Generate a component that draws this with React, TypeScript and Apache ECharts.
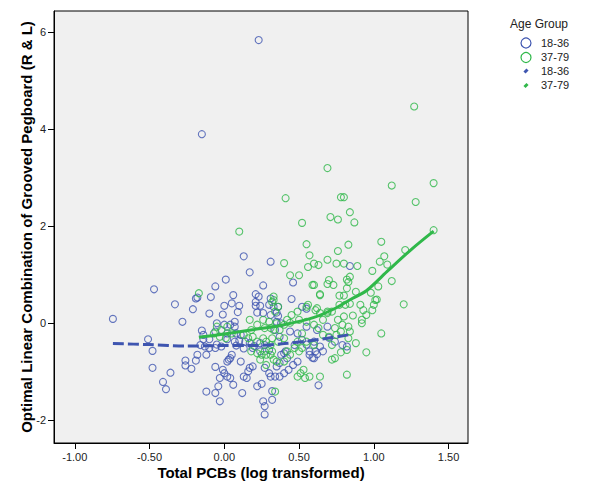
import React, { useEffect, useRef } from "react";
import * as echarts from "echarts";

// Age group 18-36: [Total PCBs (log), Grooved Pegboard combination]
const youngPoints: [number, number][] = [
  [0.23, 5.84], [-0.15, 3.9], [-0.745, 0.09], [-0.47, 0.7], [-0.33, 0.39], [-0.21, 0.29],
  [-0.19, 0.51], [-0.28, 0.03], [-0.51, -0.33], [-0.48, -0.57], [-0.48, -0.92], [-0.36, -1.02],
  [-0.41, -1.21], [-0.39, -1.36], [-0.26, -0.77], [-0.26, -0.87], [-0.22, -0.94], [-0.19, -0.77],
  [0.13, 1.38], [0.17, 1.05], [0.01, 0.9], [-0.06, 0.76], [0.26, 0.78], [-0.18, 0.53],
  [-0.09, 0.54], [0.06, 0.58], [0.21, 0.6], [0.23, 0.55], [0.31, 1.27], [0.46, 0.84],
  [0.45, 0.5], [0.52, 0.34], [0.84, 1.18], [0.21, 0.44], [0.0, 0.36], [0.05, 0.41],
  [0.1, 0.36], [-0.1, 0.2], [-0.01, 0.18], [0.09, 0.23], [0.21, 0.36], [0.24, 0.36],
  [0.22, 0.22], [0.26, 0.21], [0.31, 0.51], [0.3, 0.38], [0.33, 0.34], [0.36, 0.34],
  [0.35, 0.22], [0.31, 0.17], [0.36, 0.15], [-0.05, 0.0], [0.0, -0.03], [0.04, -0.03],
  [0.07, 0.03], [-0.06, -0.17], [-0.15, -0.15], [-0.14, -0.24], [-0.1, -0.33], [-0.14, -0.33],
  [0.07, -0.07], [0.08, -0.21], [0.11, -0.24], [0.1, -0.36], [0.07, -0.38], [0.02, -0.21],
  [0.02, -0.33], [-0.02, -0.48], [-0.06, -0.51], [-0.1, -0.51], [-0.13, -0.48], [-0.12, -0.65],
  [0.14, -0.38], [0.17, -0.41], [0.24, -0.41], [0.27, -0.45], [0.19, -0.51], [0.24, -0.58],
  [0.3, -0.55], [0.34, -0.14], [0.37, -0.28], [0.35, 0.03], [0.38, 0.0], [0.44, -0.17],
  [0.49, -0.21], [0.47, -0.45], [0.52, -0.34], [0.55, -0.07], [0.62, -0.14], [0.6, -0.38],
  [0.64, -0.48], [0.66, -0.58], [0.57, -0.65], [0.6, -0.72], [0.74, -0.38], [0.79, -0.45],
  [0.82, -0.48], [0.02, -0.79], [0.04, -0.72], [0.05, -0.65], [0.03, -0.75], [0.11, -0.79],
  [-0.06, -0.9], [-0.01, -0.96], [0.0, -1.03], [0.02, -1.1], [0.04, -1.13], [-0.03, -1.13],
  [-0.04, -1.3], [-0.06, -1.44], [-0.03, -1.61], [-0.12, -1.41], [0.06, -1.27], [0.12, -1.44],
  [0.13, -1.1], [0.16, -0.99], [0.15, -1.13], [0.17, -0.92], [0.19, -0.89], [0.22, -1.3],
  [0.25, -1.25], [0.27, -0.92], [0.3, -1.03], [0.31, -1.1], [0.34, -1.1], [0.37, -1.1],
  [0.26, -1.61], [0.27, -1.71], [0.27, -1.88], [0.32, -1.58], [0.63, -1.28], [0.49, -0.79],
  [0.46, -0.86], [0.43, -0.96], [0.4, -1.03], [0.38, -0.65], [0.41, -0.58], [0.42, -0.72],
  [0.57, -0.58], [0.61, -0.58], [0.59, -0.71], [0.62, -0.64], [0.4, -0.62], [0.37, -0.82],
  [0.35, -0.89], [0.32, -1.4], [-0.18, -0.65], [-0.16, -0.45], [-0.05, -0.44], [0.08, -0.46],
  [0.13, -0.52], [0.2, -0.47], [0.55, -0.44], [0.7, -0.3], [0.55, 0.3], [0.69, -0.07],
];

// Age group 37-79
const olderPoints: [number, number][] = [
  [1.27, 4.47], [0.69, 3.2], [1.12, 2.84], [1.4, 2.89], [1.28, 2.5], [0.41, 2.58],
  [0.78, 2.6], [0.8, 2.6], [0.84, 2.29], [0.71, 2.19], [0.76, 2.14], [0.87, 2.08],
  [0.52, 2.07], [1.4, 1.92], [0.1, 1.89], [1.05, 1.68], [0.55, 1.63], [0.83, 1.62],
  [1.21, 1.51], [0.76, 1.49], [0.57, 1.4], [1.07, 1.38], [0.4, 1.24], [0.69, 1.31],
  [0.75, 1.23], [0.8, 1.23], [0.6, 1.23], [0.63, 1.2], [0.89, 1.18], [1.04, 1.27],
  [1.09, 1.21], [0.56, 1.16], [0.99, 1.08], [0.44, 0.99], [0.5, 0.99], [0.84, 0.96],
  [0.82, 0.9], [0.83, 0.85], [0.7, 0.89], [0.73, 0.79], [0.69, 0.81], [1.12, 0.87],
  [0.59, 0.79], [0.82, 0.72], [1.03, 0.76], [0.64, 0.6], [0.77, 0.57], [0.8, 0.57],
  [0.88, 0.65], [0.98, 0.63], [1.02, 0.49], [1.2, 0.39], [0.33, 0.55], [0.32, 0.44],
  [0.56, 0.38], [0.62, 0.31], [0.69, 0.24], [0.77, 0.38], [0.81, 0.38], [0.84, 0.4],
  [0.91, 0.38], [0.93, 0.27], [1.01, 0.48], [1.0, 0.38], [0.95, 0.17], [0.99, 0.27],
  [0.86, 0.16], [0.92, 0.07], [0.92, 0.0], [1.05, -0.21], [0.88, -0.41], [0.83, -0.07],
  [0.84, -0.17], [0.83, -0.31], [0.82, -0.55], [0.95, -0.6], [0.82, -1.06], [-0.17, 0.62],
  [0.33, 0.48], [0.36, 0.34], [0.34, 0.24], [0.6, 0.79], [0.64, 0.58], [0.49, 0.24],
  [0.55, 0.34], [0.61, 0.27], [0.64, 0.21], [0.69, 0.21], [0.66, 0.07], [0.72, 0.24],
  [0.76, 0.07], [0.8, 0.14], [0.45, 0.17], [0.42, 0.07], [0.44, 0.01], [0.4, -0.03],
  [0.5, 0.07], [0.55, 0.03], [0.6, -0.03], [0.63, -0.1], [0.3, 0.03], [0.27, -0.1],
  [0.31, -0.1], [0.35, 0.0], [0.33, -0.14], [0.37, -0.14], [0.17, 0.07], [0.22, -0.03],
  [0.26, 0.07], [0.18, -0.14], [0.13, -0.24], [0.16, -0.31], [0.19, -0.28], [0.22, -0.38],
  [-0.05, -0.07], [-0.02, -0.14], [0.02, -0.07], [-0.07, -0.21], [-0.03, -0.28], [0.01, -0.31],
  [0.05, -0.21], [0.26, -0.31], [0.28, -0.38], [0.31, -0.45], [0.32, -0.31], [0.36, -0.38],
  [0.4, -0.31], [0.27, -0.58], [0.31, -0.65], [0.33, -0.75], [0.35, -0.79], [0.24, -0.75],
  [0.28, -0.86], [0.18, -0.58], [0.22, -0.62], [0.25, -0.65], [0.28, -0.65], [0.32, -0.58],
  [0.42, -0.58], [0.44, -0.65], [0.4, -0.79], [0.34, -1.41], [0.49, -1.1], [0.51, -1.03],
  [0.53, -0.96], [0.54, -1.13], [0.57, -1.1], [0.64, -1.1], [0.72, -0.75], [0.74, -0.72],
  [0.78, -0.6], [0.75, -0.24], [0.78, -0.17], [0.7, -0.28], [0.66, -0.24], [0.74, -0.1],
  [0.79, -0.03], [0.55, -0.38], [0.6, -0.45], [0.72, -0.45], [0.49, -0.38], [0.52, -0.21],
  [0.5, -0.58], [0.47, -0.51], [0.52, -0.51],
];

// Fit lines (loess-like)
const youngFit: [number, number][] = [
  [-0.745, -0.42], [-0.5, -0.44], [-0.25, -0.47], [0.0, -0.46], [0.2, -0.46],
  [0.4, -0.42], [0.6, -0.35], [0.83, -0.24],
];
const olderFit: [number, number][] = [
  [-0.17, -0.29], [0.0, -0.22], [0.2, -0.13], [0.4, -0.03], [0.6, 0.12], [0.75, 0.32],
  [0.85, 0.5], [0.95, 0.67], [1.1, 1.1], [1.25, 1.52], [1.4, 1.9],
];

const xTicks = [-1, -0.5, 0, 0.5, 1, 1.5];
const yTicks = [-2, 0, 2, 4, 6];
const groupNames = ["18-36", "37-79"];

const BLUE = "#3e55b0";
const GREEN = "#30b84a";
const FONT = "Liberation Sans, Arial, sans-serif";

export default function App() {
  const ref = useRef<HTMLDivElement>(null);
  useEffect(() => {
    if (!ref.current) return;
    const chart = echarts.init(ref.current, null, { renderer: "svg" });
    const legendX = 526;
    const option: any = {
      animation: false,
      backgroundColor: "#ffffff",
      textStyle: { fontFamily: FONT },
      grid: {
        left: 54,
        top: 11,
        right: 134,
        bottom: 49,
        show: true,
        backgroundColor: "#f0f0f0",
        borderColor: "#000",
        borderWidth: 1,
        containLabel: false,
        outerBoundsMode: "none",
      },
      xAxis: {
        type: "value",
        min: -1.139,
        max: 1.63,
        name: "Total PCBs (log transformed)",
        nameLocation: "middle",
        nameGap: 22,
        nameMoveOverlap: false,
        nameTextStyle: { fontFamily: FONT, fontSize: 15, fontWeight: "bold", color: "#000" },
        axisLine: { show: true, onZero: false, lineStyle: { color: "#000", width: 1 } },
        axisTick: { show: true, length: 6, customValues: xTicks, lineStyle: { color: "#000" } },
        axisLabel: {
          customValues: xTicks,
          margin: 8,
          fontSize: 11,
          fontFamily: FONT,
          color: "#222",
          formatter: (v: number) => v.toFixed(2),
        },
        splitLine: { show: false },
      },
      yAxis: {
        type: "value",
        min: -2.47,
        max: 6.44,
        name: "Optimal Linear Combination of Grooved Pegboard (R & L)",
        nameLocation: "middle",
        nameGap: 20,
        nameMoveOverlap: false,
        nameTextStyle: { fontFamily: FONT, fontSize: 15, fontWeight: "bold", color: "#000" },
        axisLine: { show: true, onZero: false, lineStyle: { color: "#000", width: 1 } },
        axisTick: { show: true, length: 6, customValues: yTicks, lineStyle: { color: "#000" } },
        axisLabel: {
          customValues: yTicks,
          margin: 8,
          fontSize: 11,
          fontFamily: FONT,
          color: "#222",
          formatter: (v: number) => String(v),
        },
        splitLine: { show: false },
      },
      series: [
        {
          type: "scatter",
          name: groupNames[0],
          data: youngPoints,
          symbol: "circle",
          symbolSize: 7,
          itemStyle: { color: "rgba(0,0,0,0)", borderColor: BLUE, borderWidth: 1.1 },
          z: 2,
        },
        {
          type: "scatter",
          name: groupNames[1],
          data: olderPoints,
          symbol: "circle",
          symbolSize: 7,
          itemStyle: { color: "rgba(0,0,0,0)", borderColor: GREEN, borderWidth: 1.1 },
          z: 3,
        },
        {
          type: "line",
          name: groupNames[0] + " fit",
          data: youngFit,
          showSymbol: false,
          smooth: 0.3,
          lineStyle: { color: BLUE, width: 3, type: [11, 4] },
          z: 4,
        },
        {
          type: "line",
          name: groupNames[1] + " fit",
          data: olderFit,
          showSymbol: false,
          smooth: 0.3,
          lineStyle: { color: GREEN, width: 3 },
          z: 5,
        },
      ],
      graphic: [
        {
          type: "text",
          left: 510,
          top: 18,
          style: { text: "Age Group", font: `12px ${FONT}`, fill: "#222" },
        },
        {
          type: "circle",
          shape: { cx: legendX, cy: 43, r: 5 },
          style: { fill: "none", stroke: BLUE, lineWidth: 1.2 },
        },
        {
          type: "circle",
          shape: { cx: legendX, cy: 57.5, r: 5 },
          style: { fill: "none", stroke: GREEN, lineWidth: 1.2 },
        },
        {
          type: "line",
          shape: { x1: legendX - 1.5, y1: 72.5, x2: legendX + 1.5, y2: 69.5 },
          style: { stroke: BLUE, lineWidth: 3 },
        },
        {
          type: "line",
          shape: { x1: legendX - 1.5, y1: 87, x2: legendX + 1.5, y2: 84 },
          style: { stroke: GREEN, lineWidth: 3 },
        },
        {
          type: "text",
          left: 541,
          top: 37,
          style: { text: groupNames[0], font: `11px ${FONT}`, fill: "#222" },
        },
        {
          type: "text",
          left: 541,
          top: 51.5,
          style: { text: groupNames[1], font: `11px ${FONT}`, fill: "#222" },
        },
        {
          type: "text",
          left: 541,
          top: 65,
          style: { text: groupNames[0], font: `11px ${FONT}`, fill: "#222" },
        },
        {
          type: "text",
          left: 541,
          top: 79.5,
          style: { text: groupNames[1], font: `11px ${FONT}`, fill: "#222" },
        },
      ],
    };
    chart.setOption(option);
    return () => chart.dispose();
  }, []);
  return (
    <div
      ref={ref}
      style={{ position: "fixed", left: 0, top: 0, width: 602, height: 492, background: "#fff" }}
    />
  );
}
